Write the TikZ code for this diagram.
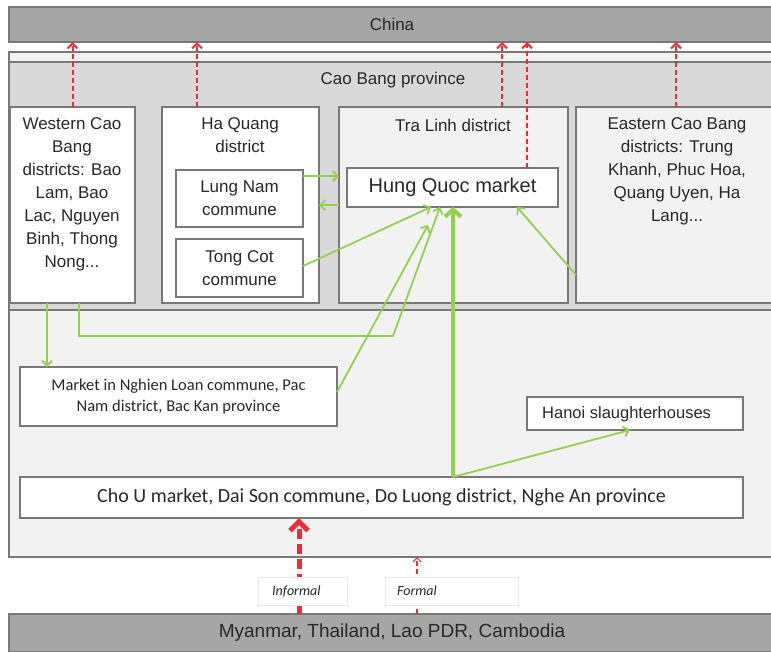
\documentclass[tikz,border=0pt]{standalone}
\usepackage{fontspec}
\setmainfont{Liberation Sans}
\newfontfamily\calfont{Carlito}
\usetikzlibrary{arrows.meta}
\definecolor{grn}{RGB}{146,208,80}
\definecolor{redc}{RGB}{235,45,55}
\definecolor{barfill}{RGB}{166,166,166}
\definecolor{lightfill}{RGB}{242,242,242}
\definecolor{midfill}{RGB}{217,217,217}
\definecolor{edge}{RGB}{120,120,120}
\definecolor{txt}{RGB}{40,40,40}
\definecolor{faint}{RGB}{232,232,232}
\begin{document}
\begin{tikzpicture}[x=1pt,y=-1pt,
  box/.style={draw=edge,line width=1.2pt,inner sep=0pt,outer sep=0pt,anchor=north west,text=txt},
  tf/.style={font=\fontsize{17}{23}\selectfont,text=txt,align=center,inner sep=0pt},
  garrow/.style={draw=grn,line width=1.8pt,-{Straight Barb[length=5pt,width=10pt]}},
  gthick/.style={draw=grn,line width=4pt,-{Straight Barb[length=7pt,width=16pt]}},
  rarrow/.style={draw=redc,line width=2pt,dash pattern=on 5pt off 3pt,-{Straight Barb[length=5pt,width=10pt]}},
  rthick/.style={draw=redc,line width=5pt,dash pattern=on 10pt off 5pt,-{Straight Barb[length=9pt,width=18pt]}}]
\clip (0,0) rectangle (771,651);
\fill[white] (0,0) rectangle (771,651);
% bars
\node[box,fill=barfill,minimum width=766pt,minimum height=35pt,font=\fontsize{17}{20}\selectfont] (china) at (9,7) {China};
% outer and province
\node[box,fill=lightfill,minimum width=766pt,minimum height=505pt] (outer) at (9,52) {};
\node[box,fill=midfill,minimum width=766pt,minimum height=248pt] (caobang) at (9,62) {};
\node[tf] (cbtxt) at (393,80) {Cao Bang province};
% districts
\node[box,fill=white,minimum width=125pt,minimum height=196pt] (west) at (10,107) {};
\node[tf,anchor=north] (westtxt) at (72,117) {Western Cao\\Bang\\districts: Bao\\Lam, Bao\\Lac, Nguyen\\Binh, Thong\\Nong...};
\node[box,fill=white,minimum width=157pt,minimum height=196pt] (hq) at (162,107) {};
\node[tf,anchor=north] (hqtxt) at (240,117) {Ha Quang\\district};
\node[box,fill=white,minimum width=127pt,minimum height=57pt,font=\fontsize{17}{23}\selectfont,align=center] (lung) at (176,170) {Lung Nam\\commune};
\node[box,fill=white,minimum width=127pt,minimum height=58pt,font=\fontsize{17}{23}\selectfont,align=center] (tong) at (176,239) {Tong Cot\\commune};
\node[box,fill=lightfill,minimum width=229pt,minimum height=196pt] (tral) at (339,107) {};
\node[tf] (traltxt) at (453,125) {Tra Linh district};
\node[box,fill=white,minimum width=211pt,minimum height=39pt,font=\fontsize{20}{24}\selectfont] (hung) at (347,168) {Hung Quoc market};
\node[box,fill=lightfill,minimum width=200pt,minimum height=196pt] (east) at (576,107) {};
\node[tf,anchor=north] (easttxt) at (677,117) {Eastern Cao Bang\\districts: Trung\\Khanh, Phuc Hoa,\\Quang Uyen, Ha\\Lang...};
% lower markets
\node[box,fill=white,minimum width=317pt,minimum height=59pt,font=\calfont\fontsize{16.5}{21.5}\selectfont,align=center] (nghien) at (20,367) {Market in Nghien Loan commune, Pac\\Nam district, Bac Kan province};
\node[box,fill=white,minimum width=216pt,minimum height=33pt] (hanoi) at (527,397) {};
\node[anchor=west,inner sep=0pt,text=txt,font=\fontsize{16.5}{20}\selectfont] (hanoitxt) at (542,414) {Hanoi slaughterhouses};
\node[box,fill=white,minimum width=723pt,minimum height=41pt,font=\calfont\fontsize{20}{24}\selectfont] (chou) at (20,477) {Cho U market, Dai Son commune, Do Luong district, Nghe An province};
\node[box,fill=barfill,minimum width=766pt,minimum height=38pt,font=\fontsize{19}{22}\selectfont] (myan) at (9,614) {Myanmar, Thailand, Lao PDR, Cambodia};
% coordinates for connector positions
\coordinate (x47) at (47,0);
\coordinate (x79) at (79,0);
\coordinate (y176) at (0,176);
\coordinate (y205) at (0,205);
\coordinate (y266) at (0,266);
\coordinate (y275) at (0,275);
\coordinate (y392) at (0,392);
\coordinate (bend) at (393,336);
\coordinate (nlend) at (428,225);
\coordinate (x431) at (431,0);
\coordinate (x440) at (440,0);
\coordinate (x453) at (453,0);
\coordinate (x517) at (517,0);
\coordinate (x630) at (630,0);
\coordinate (x197) at (197,0);
\coordinate (x502) at (502,0);
\coordinate (x527) at (527,0);
\coordinate (x676) at (676,0);
\coordinate (x299) at (299,0);
\coordinate (x417) at (417,0);
% green connectors
\draw[garrow] (lung.east |- y176) -- (tral.west |- y176);
\draw[garrow] (tral.west |- y205) -- (hq.east |- y205);
\draw[garrow] (tong.east |- y266) -- (hung.south -| x431);
\draw[garrow] (west.south -| x47) -- (nghien.north -| x47);
\draw[garrow] (west.south -| x79) |- (bend) -- (hung.south -| x440);
\draw[garrow] (nghien.east |- y392) -- (nlend);
\draw[garrow] (east.west |- y275) -- (hung.south -| x517);
\draw[garrow] (chou.north -| x453) -- (hanoi.south -| x630);
\draw[gthick] (chou.north -| x453) -- (hung.south -| x453);
% red connectors to China
\draw[rarrow] (west.north) -- (china.south -| west.north);
\draw[rarrow] (hq.north -| x197) -- (china.south -| x197);
\draw[rarrow] (tral.north -| x502) -- (china.south -| x502);
\draw[rarrow] (hung.north -| x527) -- (china.south -| x527);
\draw[rarrow] (east.north -| x676) -- (china.south -| x676);
% imports
\draw[rthick] (myan.north -| x299) -- (chou.south -| x299);
\draw[rarrow,line width=1.2pt,-{Straight Barb[length=4pt,width=8pt]}] (myan.north -| x417) -- (outer.south -| x417);
\node[box,draw=faint,line width=0.8pt,fill=white,minimum width=89pt,minimum height=28pt] (informal) at (258,577) {};
\node[anchor=west,inner sep=0pt,text=txt,font=\calfont\itshape\fontsize{14}{16}\selectfont] (informaltxt) at (272,591) {Informal};
\node[box,draw=faint,line width=0.8pt,fill=white,minimum width=133pt,minimum height=28pt] (formal) at (385,577) {};
\node[anchor=west,inner sep=0pt,text=txt,font=\calfont\itshape\fontsize{14}{16}\selectfont] (formaltxt) at (397,591) {Formal};
\end{tikzpicture}
\end{document}
